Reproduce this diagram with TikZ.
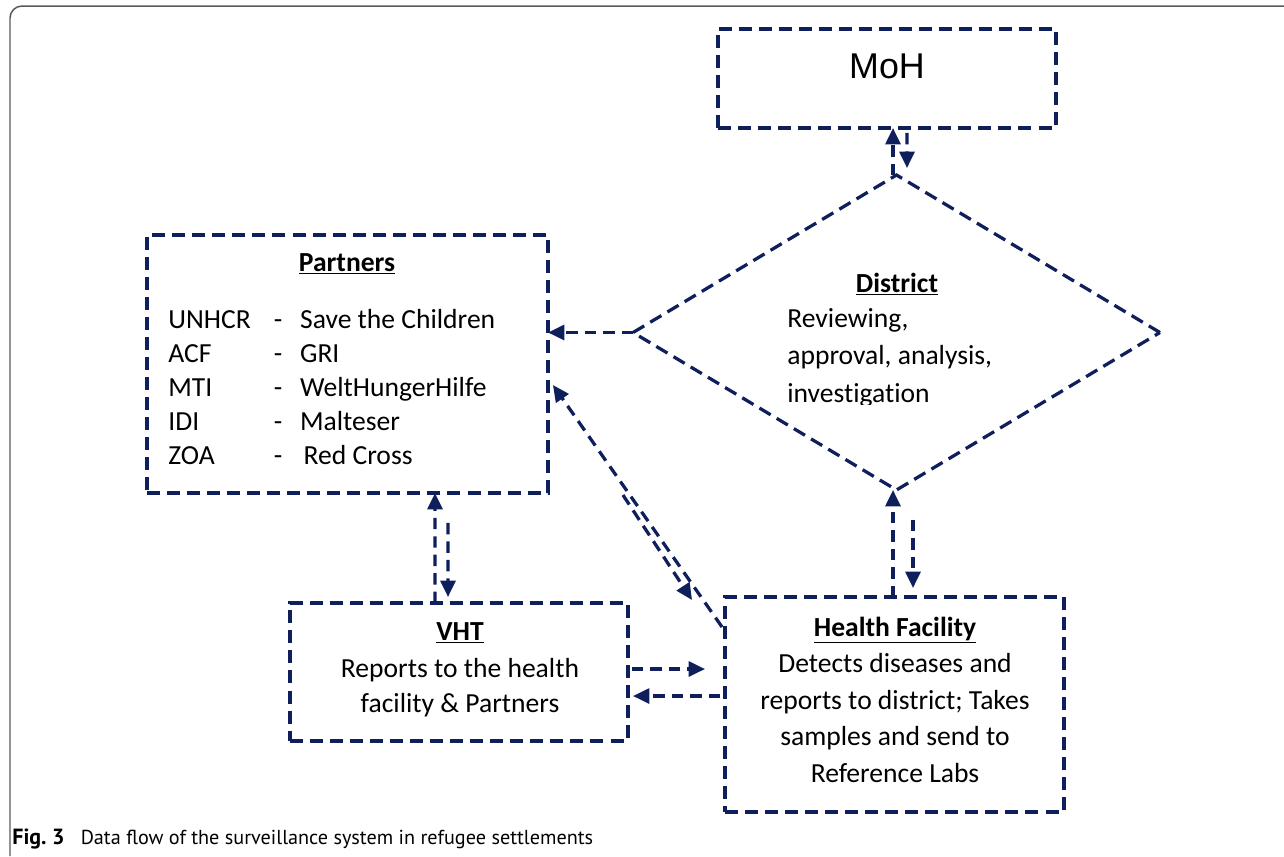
\documentclass[tikz,border=0pt]{standalone}
\usepackage{fontspec}
\setmainfont{Carlito}[Ligatures=NoCommon]
\newfontfamily\mohfont{Liberation Sans}
\newfontfamily\captionfont{PT Sans}
\usepackage{tikz}
\usetikzlibrary{calc}
\usetikzlibrary{arrows.meta}
\usetikzlibrary{shapes.geometric}
\definecolor{flownavy}{HTML}{0F1F5C}
\definecolor{framegray}{HTML}{5A5A5A}

\begin{document}
\begin{tikzpicture}[
    x=0.02cm, y=-0.02cm,
    flow box/.style={
        draw=flownavy, line width=1.85pt,
        dash pattern=on 7.4pt off 4pt,
        inner sep=0pt, outer sep=0pt
    },
    flow arrow/.style={
        draw=flownavy, line width=1.85pt,
        dash pattern=on 6.5pt off 4pt,
        -{Triangle[length=0.33cm, width=0.3cm]}
    },
    body/.style={inner sep=0pt, font=\fontsize{15.7}{20.7}\selectfont}
  ]
  \useasboundingbox (0,0) rectangle (1284,856);

  % outer frame, open at right and bottom
  \draw[framegray, line width=0.85pt, rounded corners=0.24cm] (10,856) -- (10,6) -- (1284,6);

  % boxes
  \node[flow box, minimum width=6.76cm, minimum height=1.98cm] (moh) at (887,78.5) {};
  \node[flow box, shape=diamond, minimum width=10.54cm, minimum height=6.3cm] (district) at (896.5,332.5) {};
  \node[flow box, minimum width=8.02cm, minimum height=5.16cm] (partners) at (347.5,364) {};
  \node[flow box, minimum width=6.76cm, minimum height=2.76cm] (vht) at (459,672) {};
  \node[flow box, minimum width=6.78cm, minimum height=4.3cm] (hf) at (894.5,704.5) {};

  % texts
  \node[inner sep=0pt, anchor=base, font=\mohfont\fontsize{20.4}{24}\selectfont] (mohtext) at (887,78) {MoH};

  \node[body, anchor=base] (districttitle) at (897,292) {\underline{\textbf{District}}};
  \begin{scope}
    \clip (700,200) rectangle (1100,404);
    \node[body, anchor=base west, align=left, font=\fontsize{15.7}{21.3}\selectfont] (districttext) at (787,402)
      {Reviewing,\\approval, analysis,\\investigation};
  \end{scope}

  \node[body, anchor=base] (partnerstitle) at (347,271) {\underline{\textbf{Partners}}};
  \node[body, anchor=base west, font=\fontsize{15.7}{19.4}\selectfont] (partnerlist) at (168,328)
    {\begin{tabular}[t]{@{}p{60pt}@{}p{15pt}@{}l@{}}
      UNHCR & - & Save the Children\\
      ACF   & - & GRI\\
      MTI   & - & WeltHungerHilfe\\
      IDI   & - & Malteser\\
      ZOA   & - & \hspace{2pt}Red Cross
    \end{tabular}};

  \node[body, anchor=base] (vhttitle) at (460,640) {\underline{\textbf{VHT}}};
  \node[body, anchor=base, align=center, font=\fontsize{15.7}{19.8}\selectfont] (vhttext) at (460,712)
    {Reports to the health\\facility \& Partners};

  \node[body, anchor=base] (hftitle) at (895,636) {\underline{\textbf{Health Facility}}};
  \node[body, anchor=base, align=center] (hftext) at (895,782)
    {Detects diseases and\\reports to district; Takes\\samples and send to\\Reference Labs};

  \node[inner sep=0pt, anchor=base west, font=\captionfont\fontsize{11.5}{13}\selectfont] (caption) at (12,844)
    {{\fontsize{12.5}{13}\selectfont\textbf{Fig.~3}}\hspace{0.8em}Data flow of the surveillance system in refugee settlements};

  % data flow
  \draw[flow arrow] ($(district.north)+(-3.5,0)$) -- ($(moh.south)+(6,0)$);
  \draw[flow arrow] ($(moh.south)+(20,5)$) -- ($(district.north)+(10.5,-7)$);

  \draw[flow arrow] (district.west) -- (district.west -| partners.east);

  \draw[flow arrow] ($(hf.north)+(-1.5,0)$) -- ($(district.south)+(-3.5,0)$);
  \draw[flow arrow] ($(district.south)+(16.5,30)$) -- ($(hf.north)+(18.5,-9)$);

  \draw[flow arrow] ($(vht.north)+(-24,0)$) -- ($(partners.south)+(87.5,0)$);
  \draw[flow arrow] ($(partners.south)+(100.5,30)$) -- ($(vht.north)+(-11,-6)$);

  \draw[flow arrow] ($(hf.west)+(-3,-77.5)$) -- ($(partners.east)+(5,21)$);
  \draw[flow arrow] ($(partners.south east)+(75,2)$) -- ($(hf.north west)+(-33,3)$);

  \draw[flow arrow] ($(vht.east)+(4,-3)$) -- ($(hf.west)+(-20,-35.5)$);
  \draw[flow arrow] ($(hf.west)+(-5,-8.5)$) -- ($(vht.east)+(5,24)$);

\end{tikzpicture}
\end{document}
